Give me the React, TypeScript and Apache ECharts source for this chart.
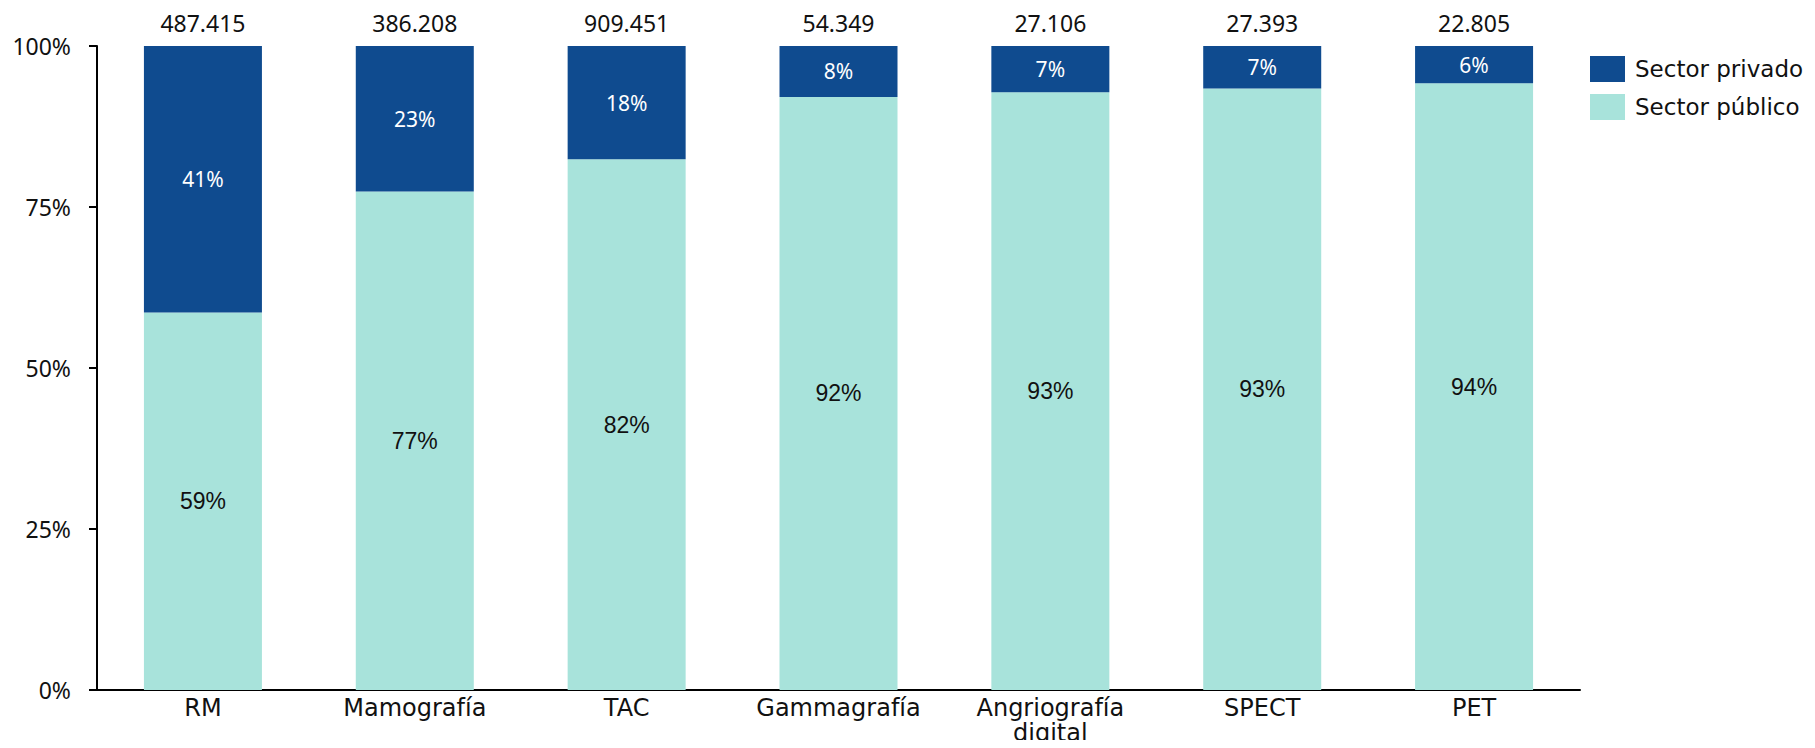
import React, { useEffect, useRef } from "react";
import * as echarts from "echarts";

const categories = ["RM", "Mamografía", "TAC", "Gammagrafía", "Angriografía\ndigital", "SPECT", "PET"];
const publicShare = [58.6, 77.4, 82.4, 92.1, 92.8, 93.4, 94.2];
const privateShare = [41.4, 22.6, 17.6, 7.9, 7.2, 6.6, 5.8];
const totals = ["487.415", "386.208", "909.451", "54.349", "27.106", "27.393", "22.805"];
const yTicks = [0, 25, 50, 75, 100];

const WORD_FONT = "DejaVu Sans";
const NUM_FONT = "Noto Sans";
const IN_FONT = "Liberation Sans";
const DARK = "#0F4B8F";
const LIGHT = "#A8E3DB";

export default function App() {
  const ref = useRef<HTMLDivElement>(null);
  useEffect(() => {
    const chart = echarts.init(ref.current!, undefined, { renderer: "svg" });
    chart.setOption({
      animation: false,
      textStyle: { fontFamily: NUM_FONT },
      grid: { left: 97, right: 235, top: 46, bottom: 58, containLabel: false },
      legend: {
        data: ["Sector privado", "Sector público"],
        orient: "vertical",
        left: 1590,
        top: 56,
        padding: 0,
        itemWidth: 35,
        itemHeight: 26,
        itemGap: 12,
        icon: "rect",
        textStyle: { fontFamily: WORD_FONT, fontSize: 23, color: "#111", padding: [0, 0, 0, 5] },
      },
      xAxis: {
        type: "category",
        data: categories,
        axisLine: { lineStyle: { color: "#000", width: 2 } },
        axisTick: { show: false },
        axisLabel: {
          color: "#111",
          fontSize: 24,
          margin: 5,
          lineHeight: 25,
          interval: 0,
          hideOverlap: false,
          fontFamily: WORD_FONT,
        },
      },
      yAxis: {
        type: "value",
        min: yTicks[0],
        max: yTicks[yTicks.length - 1],
        interval: 25,
        splitLine: { show: false },
        axisLine: { show: true, lineStyle: { color: "#000", width: 2 } },
        axisTick: { show: true, length: 8, lineStyle: { color: "#000", width: 2 } },
        axisLabel: { color: "#111", fontSize: 23, margin: 26, formatter: (v: number) => v + "%", fontFamily: NUM_FONT },
      },
      series: [
        {
          name: "Sector público",
          type: "bar",
          stack: "s",
          barWidth: "55.7%",
          data: publicShare,
          itemStyle: { color: LIGHT },
          label: {
            show: true,
            position: "inside",
            color: "#111",
            fontSize: 23,
            fontFamily: IN_FONT,
            formatter: (p: any) => Math.round(p.value) + "%",
          },
        },
        {
          name: "Sector privado",
          type: "bar",
          stack: "s",
          data: privateShare,
          itemStyle: { color: DARK },
          label: {
            show: true,
            position: "inside",
            color: "#fff",
            fontSize: 21,
            fontFamily: NUM_FONT,
            formatter: (p: any) => Math.round(p.value) + "%",
          },
        },
        {
          name: "Total",
          type: "bar",
          stack: "s",
          data: totals.map(() => 0),
          itemStyle: { color: "transparent" },
          label: {
            show: true,
            position: "top",
            distance: 12,
            color: "#111",
            fontSize: 23,
            fontFamily: NUM_FONT,
            formatter: (p: any) => totals[p.dataIndex],
          },
        },
      ],
    });
    return () => chart.dispose();
  }, []);
  return <div ref={ref} style={{ width: 1815, height: 748, margin: -8 }} />;
}
